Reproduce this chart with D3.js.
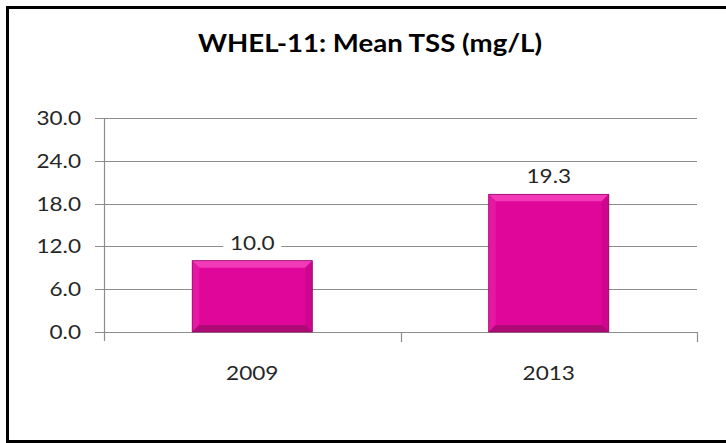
<!DOCTYPE html>
<html>
<head>
<meta charset="utf-8">
<script src="https://cdn.jsdelivr.net/npm/d3@7"></script>
<style>
  html, body { margin: 0; padding: 0; background: #fff; }
  svg { display: block; }
  text { font-family: Lato, "Open Sans", sans-serif; fill: #262626; }
</style>
</head>
<body>
<div id="chart"></div>
<script>
// WHEL-11 mean TSS, two sampling years
const years = ["2009", "2013"];
const meanTss = [10.0, 19.3];
const yTicks = [0, 6, 12, 18, 24, 30];

const width = 726, height = 443;
const margin = { top: 118, right: 29, bottom: 111, left: 104 };

const svg = d3.select("#chart").append("svg")
    .attr("width", width)
    .attr("height", height);

// outer frame (right side runs off the picture in the original)
svg.append("rect")
    .attr("x", 7.5).attr("y", 7.5)
    .attr("width", 740).attr("height", 434)
    .attr("fill", "none")
    .attr("stroke", "#000")
    .attr("stroke-width", 3);

svg.append("text")
    .attr("transform", "translate(370,52) scale(1.15,1)")
    .attr("text-anchor", "middle")
    .attr("font-size", 24)
    .attr("font-weight", "bold")
    .style("fill", "#000")
    .text("WHEL-11: Mean TSS (mg/L)");

const x = d3.scaleBand()
    .domain(years)
    .range([margin.left, width - margin.right]);

const y = d3.scaleLinear()
    .domain([0, 30])
    .range([height - margin.bottom, margin.top]);

const gridColor = "#8c8c8c";

// gridlines
svg.append("g")
    .selectAll("line")
    .data(yTicks)
    .join("line")
    .attr("x1", margin.left - 9)
    .attr("x2", width - margin.right)
    .attr("y1", d => Math.round(y(d)) + 0.5)
    .attr("y2", d => Math.round(y(d)) + 0.5)
    .attr("stroke", gridColor)
    .attr("stroke-width", 1.2);

// y axis line
svg.append("line")
    .attr("x1", margin.left + 0.5).attr("x2", margin.left + 0.5)
    .attr("y1", y(30)).attr("y2", y(0) + 9)
    .attr("stroke", gridColor).attr("stroke-width", 1.2);

// x axis ticks at band boundaries
const boundaries = [margin.left, ...years.slice(1).map(d => x(d)), width - margin.right];
svg.append("g")
    .selectAll("line")
    .data(boundaries.slice(1))
    .join("line")
    .attr("x1", d => Math.round(d) + 0.5)
    .attr("x2", d => Math.round(d) + 0.5)
    .attr("y1", y(0))
    .attr("y2", y(0) + 10)
    .attr("stroke", gridColor).attr("stroke-width", 1.2);

// y tick labels
svg.append("g")
    .selectAll("text")
    .data(yTicks)
    .join("text")
    .attr("transform", d => `translate(81,${y(d) + 7}) scale(1.22,1)`)
    .attr("text-anchor", "end")
    .attr("font-size", 18.5)
    .text(d => d.toFixed(1));

// category labels
svg.append("g")
    .selectAll("text")
    .data(years)
    .join("text")
    .attr("transform", d => `translate(${x(d) + x.bandwidth() / 2},${y(0) + 48}) scale(1.22,1)`)
    .attr("text-anchor", "middle")
    .attr("font-size", 18.5)
    .text(d => d);

// bars with a bevel
const barW = x.bandwidth() * 0.405;
const bev = 7;
const bars = svg.append("g")
    .selectAll("g")
    .data(years.map((d, i) => ({ year: d, value: meanTss[i] })))
    .join("g");

bars.append("rect")
    .attr("x", d => x(d.year) + x.bandwidth() / 2 - barW / 2)
    .attr("y", d => y(d.value))
    .attr("width", barW)
    .attr("height", d => y(0) - y(d.value))
    .attr("fill", "#e1069a");

const facet = (d, side) => {
    const x0 = x(d.year) + x.bandwidth() / 2 - barW / 2, x1 = x0 + barW;
    const y0 = y(d.value), y1 = y(0);
    if (side === "top") return [[x0, y0], [x1, y0], [x1 - bev, y0 + bev], [x0 + bev, y0 + bev]];
    if (side === "left") return [[x0, y0], [x0 + bev, y0 + bev], [x0 + bev, y1 - bev], [x0, y1]];
    if (side === "right") return [[x1, y0], [x1, y1], [x1 - bev, y1 - bev], [x1 - bev, y0 + bev]];
    return [[x0, y1], [x0 + bev, y1 - bev], [x1 - bev, y1 - bev], [x1, y1]];
};
const facetFill = { top: "#f23ab9", left: "#e617a4", right: "#cc068e", bottom: "#ad0a76" };

["top", "left", "right", "bottom"].forEach(side => {
    bars.append("polygon")
        .attr("points", d => facet(d, side).map(p => p.join(",")).join(" "))
        .attr("fill", facetFill[side]);
});

bars.append("rect")
    .attr("x", d => x(d.year) + x.bandwidth() / 2 - barW / 2)
    .attr("y", d => y(d.value))
    .attr("width", barW)
    .attr("height", d => y(0) - y(d.value))
    .attr("fill", "none")
    .attr("stroke", "#9a0a6a")
    .attr("stroke-width", 0.8);

// value labels on a white box so the gridline breaks around them
const labels = bars.append("g")
    .attr("transform", d => `translate(${x(d.year) + x.bandwidth() / 2},${y(d.value) - 18})`);

labels.append("rect")
    .attr("x", -29).attr("y", -13)
    .attr("width", 58).attr("height", 24)
    .attr("fill", "#fff");

labels.append("text")
    .attr("y", 7)
    .attr("transform", "scale(1.22,1)")
    .attr("text-anchor", "middle")
    .attr("font-size", 18.5)
    .text(d => d.value.toFixed(1));
</script>
</body>
</html>
